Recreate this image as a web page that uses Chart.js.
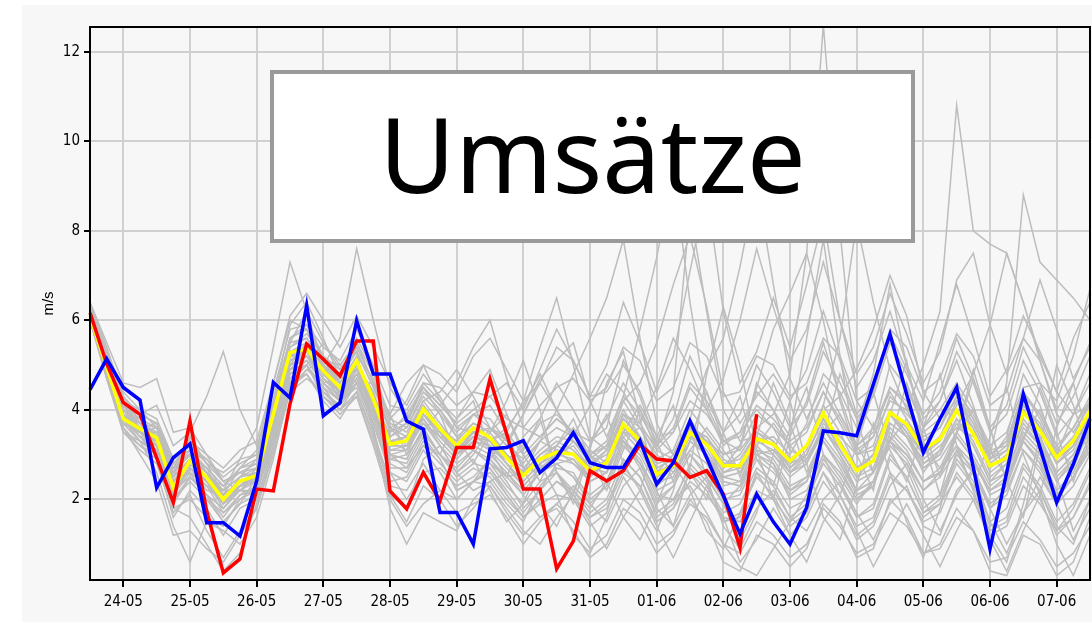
<!DOCTYPE html>
<html>
<head>
<meta charset="utf-8">
<script src="https://cdn.jsdelivr.net/npm/chart.js@4/dist/chart.umd.min.js"></script>
<style>
  html, body { margin: 0; padding: 0; background: #ffffff; }
  #bg { position: absolute; left: 22px; top: 5px; width: 1070px; height: 617px; background: #f7f7f7; }
  #wrap { position: absolute; left: 0; top: 0; width: 1092px; height: 626px; }
  #titlebox {
    position: absolute; left: 270px; top: 70px; width: 637px; height: 165px;
    border: 4px solid #9a9a9a; background: #ffffff;
    display: flex; align-items: center; justify-content: center;
    font-family: 'Noto Sans', 'Open Sans', sans-serif; font-size: 104px; color: #000;
    line-height: 1;
  }
  #titlebox span { position: relative; top: -4px; }
</style>
</head>
<body>
<div id="bg"></div>
<div id="wrap"><canvas id="c"></canvas></div>
<div id="titlebox"><span>Umsätze</span></div>
<script>
// ---- tick labels ----
const dayLabels = ['24-05','25-05','26-05','27-05','28-05','29-05','30-05','31-05','01-06','02-06','03-06','04-06','05-06','06-06','07-06'];
const yTickValues = [2, 4, 6, 8, 10, 12];
const yAxisTitle = 'm/s';
const chartTitle = 'Umsätze';

// 6-hourly time steps from 23-05 12h to 07-06 12h (61 steps)
const timeLabels = ['23-05 12h', '23-05 18h'];
for (const d of dayLabels) {
  timeLabels.push(d + ' 00h', d + ' 06h', d + ' 12h', d + ' 18h');
}
timeLabels.length = 61;

// ---- highlighted series ----
const blueVals = [4.45,5.14,4.5,4.22,2.26,2.93,3.24,1.48,1.48,1.18,2.41,4.61,4.27,6.33,3.87,4.16,5.99,4.8,4.8,3.75,3.57,1.71,1.71,1.0,3.13,3.16,3.31,2.6,2.93,3.49,2.82,2.71,2.71,3.31,2.34,2.82,3.75,2.93,2.08,1.23,2.12,1.5,1.0,1.82,3.53,3.49,3.42,4.57,5.69,4.35,3.05,3.8,4.5,2.71,0.89,2.6,4.35,3.16,1.93,2.79,3.8];
const redVals = [6.17,5.03,4.16,3.9,2.93,1.93,3.75,1.74,0.36,0.67,2.23,2.19,4.13,5.47,5.13,4.76,5.54,5.54,2.19,1.79,2.6,1.97,3.16,3.16,4.69,3.46,2.23,2.23,0.45,1.07,2.64,2.41,2.64,3.23,2.9,2.86,2.49,2.64,2.12,0.92,3.9];
const meanVals = [6.1,4.95,3.8,3.58,3.38,2.26,2.86,2.49,2.0,2.41,2.53,3.9,5.28,5.36,4.87,4.5,5.09,4.24,3.23,3.31,4.02,3.58,3.2,3.6,3.38,2.93,2.53,2.9,3.05,3.01,2.64,2.82,3.68,3.31,2.56,2.75,3.49,3.23,2.75,2.75,3.35,3.23,2.86,3.2,3.94,3.23,2.64,2.86,3.94,3.68,3.12,3.35,3.98,3.46,2.75,2.93,3.94,3.53,2.93,3.31,3.98];

// ---- ensemble members (grey) ----
const ens01 = [6.3,5.3,4.4,4.0,3.6,2.8,3.0,2.9,2.5,2.8,3.0,4.4,5.8,5.9,5.2,4.8,5.6,4.9,3.8,3.6,4.4,4.0,3.5,3.9,3.8,3.3,2.8,3.3,3.6,3.4,3.0,3.2,4.2,3.6,2.9,3.1,4.0,3.5,3.0,3.2,3.9,3.6,3.2,3.5,4.4,3.7,3.0,3.2,4.3,3.9,3.5,3.8,4.4,3.9,3.1,3.2,4.3,3.9,3.2,3.6,4.3];
const ens02 = [6.0,4.8,3.6,3.2,2.9,1.6,2.2,1.8,1.2,1.8,2.0,3.2,4.6,4.8,4.2,3.8,4.4,3.5,2.4,2.5,3.2,2.8,2.4,2.7,2.5,2.0,1.6,1.9,2.1,2.0,1.6,1.8,2.6,2.3,1.5,1.8,2.4,2.1,1.6,1.5,2.2,2.0,1.5,1.8,2.6,1.9,1.2,1.5,2.5,2.2,1.6,1.9,2.5,2.0,1.2,1.4,2.3,1.9,1.3,1.6,2.3];
const ens03 = [6.2,5.1,4.0,3.9,4.1,3.2,3.5,4.3,5.3,4.0,3.2,4.2,5.5,6.2,5.5,4.9,5.3,4.5,3.9,4.6,5.0,4.2,3.8,4.4,4.9,3.9,3.1,3.8,4.6,4.0,3.3,3.6,5.1,4.3,3.2,3.8,5.2,4.4,3.3,3.1,4.6,4.0,3.4,4.2,5.5,4.3,3.2,3.5,5.0,4.5,3.6,4.2,5.1,4.1,2.9,3.4,4.8,4.1,3.0,3.9,4.6];
const ens04 = [6.4,5.4,4.3,3.7,3.3,2.4,2.6,2.3,2.2,2.9,3.6,5.4,7.3,6.2,5.0,4.3,4.8,3.9,2.8,2.6,3.3,2.9,2.2,2.4,2.7,2.2,1.7,2.2,2.8,2.5,1.9,2.3,3.4,2.8,2.0,2.3,3.0,2.6,2.0,2.1,2.9,2.6,2.2,2.4,3.3,2.8,2.1,2.3,3.4,3.0,2.4,2.7,3.2,2.6,1.8,2.1,3.1,2.7,2.0,2.5,3.1];
const ens05 = [6.1,5.0,3.9,3.4,3.5,2.5,2.9,2.6,2.2,2.2,2.1,3.4,4.9,5.2,5.0,5.6,7.6,6.0,4.5,3.9,4.5,3.9,3.0,3.2,3.0,2.6,2.2,2.6,2.8,2.9,2.4,2.6,3.5,3.4,2.8,2.9,3.6,3.3,2.4,2.3,3.0,3.1,2.8,3.0,3.8,3.1,2.5,2.9,4.0,3.5,2.8,3.0,3.7,3.2,2.4,2.6,3.6,3.2,2.6,3.0,3.6];
const ens06 = [6.2,4.9,3.7,3.3,2.6,1.4,0.6,1.5,1.3,1.0,1.6,2.9,4.5,4.9,4.6,4.2,4.5,3.6,2.1,1.8,2.9,3.2,2.6,2.2,2.4,2.6,2.1,1.6,1.9,2.3,1.9,1.5,2.3,2.7,1.8,1.4,2.1,2.5,1.9,1.1,1.8,2.2,1.6,1.3,2.0,2.4,1.7,1.1,1.9,2.3,1.4,1.2,2.2,2.6,1.5,0.8,1.7,2.2,1.4,1.0,2.0];
const ens07 = [6.3,5.2,4.1,3.8,3.4,2.7,3.3,2.8,2.4,2.6,2.7,4.1,5.4,5.6,5.1,4.6,5.0,4.3,3.4,3.6,4.3,3.9,3.4,3.7,3.5,3.0,2.7,3.1,3.4,3.3,2.8,3.1,3.9,3.3,2.6,3.0,3.8,3.2,2.7,3.0,3.6,3.9,4.8,7.5,12.6,8.0,4.2,3.6,4.5,4.2,3.4,3.6,4.5,3.8,3.0,3.3,4.4,3.8,3.0,3.4,4.2];
const ens08 = [6.1,5.0,3.8,3.6,3.7,2.9,3.1,2.6,1.9,2.2,2.4,3.6,5.0,5.1,4.6,4.7,5.4,4.6,3.6,3.2,3.7,3.4,3.3,3.9,3.6,3.2,2.9,3.3,3.1,2.8,2.5,2.9,3.9,3.7,3.1,2.9,3.4,3.3,3.0,3.1,3.6,3.3,2.7,3.0,3.8,3.4,3.0,3.4,4.2,4.0,5.0,6.2,10.8,8.0,7.7,7.5,6.4,5.2,4.4,3.9,4.1];
const ens09 = [6.2,5.1,4.0,3.7,3.2,2.1,2.7,2.5,2.3,2.6,2.5,3.8,5.1,5.4,5.0,4.4,4.8,4.0,2.9,3.0,3.8,3.3,2.9,3.3,3.1,2.7,2.3,2.7,3.0,3.2,2.7,2.6,3.3,3.0,2.3,2.6,3.3,3.0,2.5,2.4,3.1,3.0,2.6,2.9,3.6,3.1,2.5,2.7,3.7,3.4,2.9,3.2,3.6,3.4,3.0,4.6,8.8,7.3,6.9,6.5,6.0];
const ens10 = [6.0,4.9,3.7,3.5,3.3,2.2,2.7,2.3,1.7,2.0,2.3,3.7,5.2,5.2,4.7,4.3,4.9,4.1,3.1,3.1,3.9,3.4,3.0,3.4,3.2,2.8,2.4,2.8,3.1,3.0,2.5,2.9,3.9,3.6,3.2,4.4,8.5,6.2,4.0,3.3,3.4,3.0,2.5,2.8,3.6,3.0,2.4,2.6,3.6,3.2,2.7,2.9,3.5,3.0,2.3,2.6,3.5,3.1,2.4,2.9,3.5];
const ens11 = [6.3,5.2,4.1,3.6,3.0,1.9,2.5,2.1,1.6,2.1,2.3,3.5,4.9,5.3,5.0,4.6,5.0,4.1,3.0,2.9,3.6,3.5,3.2,3.1,2.8,2.5,2.6,3.3,4.0,4.8,5.6,6.5,7.8,5.6,3.7,3.0,3.5,3.4,2.9,2.7,3.1,2.9,2.3,2.5,3.3,2.8,2.2,2.4,3.3,3.0,2.4,2.6,3.2,2.8,2.2,2.5,3.3,2.9,2.1,2.5,3.2];
const ens12 = [6.2,4.8,3.5,3.3,3.0,1.8,2.0,1.6,1.4,2.0,2.2,3.3,4.7,5.0,4.5,4.0,4.4,3.4,2.3,2.2,2.8,2.2,1.7,1.9,2.1,1.6,1.0,1.5,1.9,1.5,0.9,1.2,2.0,1.7,1.0,1.3,1.9,1.6,1.0,0.8,1.5,1.2,0.7,1.0,1.8,1.4,0.8,1.0,1.7,1.4,0.8,0.9,1.6,1.3,0.6,0.7,1.5,1.1,0.5,0.8,1.4];
const ens13 = [6.1,5.1,4.2,4.0,3.8,2.9,3.2,2.8,2.6,2.9,3.0,4.2,5.6,5.9,5.4,5.1,5.8,5.0,4.1,4.0,4.6,4.5,4.1,4.4,4.3,3.8,3.6,4.1,4.5,4.7,4.2,4.5,5.4,5.1,4.2,4.5,5.5,5.2,4.3,4.4,5.2,5.0,4.3,4.6,5.6,5.2,4.2,4.5,5.8,5.4,4.4,4.7,5.7,5.2,4.1,4.4,5.6,5.1,4.0,4.6,5.5];
const ens14 = [6.2,5.0,3.9,3.4,3.1,2.6,3.4,2.8,2.1,2.3,2.6,3.6,4.6,5.0,5.5,5.0,4.6,3.8,3.5,3.9,3.5,3.0,3.8,4.2,3.1,2.5,3.4,3.8,2.6,2.1,3.2,3.9,2.8,2.2,3.4,4.1,2.6,2.0,3.5,4.3,2.9,2.3,3.6,4.5,3.0,2.1,3.2,4.4,3.1,2.4,3.6,4.8,3.2,2.2,3.4,4.5,3.0,2.1,3.6,4.6,3.2];
const ens15 = [6.0,4.9,3.9,3.6,3.0,1.8,1.6,1.0,0.4,0.8,1.9,3.2,4.6,5.0,4.3,4.0,4.6,3.7,2.6,2.0,2.6,2.7,2.3,2.5,2.9,2.4,1.8,2.2,2.6,2.0,1.4,1.7,2.9,2.5,1.6,1.9,2.8,2.4,1.5,1.6,2.6,2.3,1.6,1.9,2.9,2.4,1.6,1.8,2.9,2.5,1.7,1.9,2.8,2.3,1.4,1.6,2.7,2.2,1.3,1.8,2.6];
const ens16 = [6.3,5.1,3.9,3.5,3.4,2.3,2.8,2.4,1.8,2.3,2.7,4.0,5.3,5.4,4.9,4.8,5.3,3.5,1.8,1.0,1.7,1.5,1.3,2.0,2.4,1.9,1.5,2.3,2.7,2.6,2.0,2.3,3.2,2.8,2.2,2.4,3.1,2.8,2.1,2.2,3.0,2.7,2.1,2.4,3.3,2.7,2.0,2.3,3.3,2.9,2.2,2.5,3.1,2.7,1.9,2.2,3.1,2.6,1.9,2.3,3.0];
const ens17 = [6.2,5.2,4.1,3.7,3.5,2.6,3.1,2.7,2.3,2.7,2.8,4.1,5.6,5.8,5.2,4.9,5.5,4.8,3.8,4.2,5.0,4.8,4.4,5.2,5.6,4.9,4.2,4.6,5.4,5.1,4.3,4.4,5.0,4.4,3.4,3.5,4.2,3.9,3.3,3.4,4.1,3.8,3.3,3.6,4.4,3.8,3.1,3.4,4.5,4.1,3.3,3.6,4.3,3.8,3.0,3.3,4.4,3.9,3.1,3.6,4.2];
const ens18 = [6.1,5.0,3.9,3.5,3.3,2.4,2.9,2.5,2.1,2.4,2.4,3.8,5.2,5.3,4.8,4.4,5.0,4.2,3.2,3.3,4.0,3.5,3.0,3.3,3.2,2.8,2.3,2.7,2.9,2.8,2.4,2.6,3.5,3.1,2.4,2.5,3.3,3.0,2.3,2.4,3.3,3.4,3.0,3.7,4.8,4.4,3.6,4.8,6.8,5.0,3.6,4.0,4.6,4.0,3.2,3.5,4.5,4.6,4.2,5.2,6.7];
const ens19 = [6.4,5.5,4.6,4.5,4.7,3.5,3.6,3.0,2.7,3.1,3.3,4.6,6.1,6.6,6.0,5.4,6.1,5.4,4.6,4.1,4.8,4.3,3.6,3.9,4.1,3.5,3.0,3.4,3.8,3.5,2.8,3.0,3.8,3.4,2.6,2.7,3.4,3.0,2.4,2.3,3.0,2.8,2.2,2.5,3.4,2.9,2.2,2.4,3.5,3.1,2.4,2.6,3.4,2.9,2.1,2.3,3.3,2.8,2.0,2.5,3.3];
const ens20 = [6.1,4.9,3.8,3.4,3.0,2.0,2.4,2.0,1.7,2.1,2.2,3.4,4.8,5.1,4.6,4.2,4.7,3.8,2.7,2.7,3.4,2.9,2.2,2.4,2.3,1.7,1.2,1.6,1.8,1.3,0.7,1.0,1.8,1.5,0.8,1.2,2.0,1.5,0.6,0.4,1.2,1.0,0.5,0.9,1.9,1.5,0.7,0.9,2.0,1.6,0.8,1.0,1.8,1.3,0.4,0.3,1.2,1.0,0.3,0.6,1.6];
const ens21 = [6.2,5.0,3.8,3.3,3.2,2.5,3.3,3.0,2.4,2.2,2.2,3.2,4.4,4.9,5.1,5.0,5.5,4.6,3.5,3.7,4.6,4.2,3.6,3.5,3.1,2.9,3.1,3.7,3.9,3.5,3.3,3.8,4.6,4.0,3.1,3.5,4.5,4.0,3.2,3.5,4.4,4.0,3.1,2.9,3.6,3.0,2.2,2.6,3.7,3.4,2.6,3.1,4.0,3.6,2.6,2.9,4.1,3.7,2.9,3.2,3.9];
const ens22 = [6.0,4.8,3.7,3.5,3.6,2.8,2.6,2.0,1.5,1.9,2.5,4.2,5.9,6.4,5.6,4.7,4.9,4.0,3.0,2.7,3.2,3.0,2.7,3.1,2.8,2.3,1.9,2.4,2.6,2.2,1.8,2.4,3.3,2.7,1.9,2.3,3.0,2.5,1.9,2.3,3.2,2.8,2.0,2.2,3.0,2.5,1.9,2.4,3.3,2.7,1.8,2.1,3.0,2.6,1.8,2.3,3.4,3.0,2.2,2.6,3.4];
const ens23 = [6.3,5.2,4.0,3.5,3.1,2.2,2.9,2.7,2.0,2.2,2.6,3.8,5.0,5.2,4.8,4.5,5.0,4.4,3.3,3.1,3.9,3.6,3.1,3.4,3.3,3.5,4.2,5.4,6.5,5.0,3.4,3.1,3.7,3.2,2.6,2.8,3.6,3.4,2.8,2.9,3.5,3.2,2.6,2.8,3.7,3.3,2.7,3.0,3.9,3.4,2.7,3.0,3.8,3.3,2.5,2.8,3.8,3.3,2.5,2.9,3.7];
const ens24 = [6.1,5.0,3.9,3.6,3.4,2.4,2.8,2.5,2.0,2.4,2.6,3.9,5.2,5.3,4.7,4.4,4.9,4.1,3.0,3.1,3.7,3.2,2.8,3.1,2.9,2.5,2.1,2.6,2.8,2.5,2.1,2.4,3.3,2.9,2.1,2.0,2.3,1.7,1.0,0.5,0.3,0.9,1.5,2.1,3.0,2.6,2.0,2.4,3.2,2.8,2.2,2.6,3.4,2.9,2.2,2.4,3.3,2.8,2.1,2.5,3.1];
const ens25 = [6.2,5.1,4.0,3.7,3.4,2.5,2.9,2.5,2.2,2.5,2.7,3.9,5.3,5.5,4.9,4.6,5.1,4.3,3.3,3.4,4.1,3.6,3.1,3.5,3.3,2.9,2.5,2.9,3.1,3.0,2.6,2.8,3.7,3.3,2.6,2.8,3.6,3.2,2.6,2.7,3.4,3.2,2.7,3.1,4.0,4.3,4.9,5.8,7.0,6.1,4.4,3.8,4.2,3.6,2.8,3.1,4.1,3.6,2.8,3.2,3.9];
const ens26 = [6.3,5.3,4.3,3.9,3.7,2.7,2.7,2.2,2.1,2.7,3.1,4.6,6.0,5.8,4.9,4.2,4.8,4.3,3.6,3.4,3.8,3.2,2.6,3.0,3.6,3.4,2.7,2.6,2.9,3.3,3.0,2.7,3.4,3.6,3.0,2.6,3.1,3.6,3.1,2.6,3.2,3.7,3.2,2.8,3.5,3.9,3.2,2.6,3.3,3.8,3.2,2.7,3.5,4.0,3.1,2.5,3.4,4.0,3.2,2.7,3.6];
const ens27 = [6.0,4.7,3.5,3.2,3.0,2.0,2.5,2.1,1.8,2.2,2.5,3.6,4.9,5.0,4.4,4.1,4.6,3.9,2.9,2.8,3.5,3.0,2.5,2.8,2.7,2.1,1.6,2.0,2.4,2.2,1.7,2.0,2.9,2.5,1.7,2.0,2.7,2.3,1.7,1.9,2.7,2.4,1.8,2.0,2.8,2.3,1.6,1.9,3.0,2.5,1.7,2.0,2.9,2.4,1.5,1.8,2.8,2.3,1.5,1.9,2.7];
const ens28 = [6.2,5.0,3.9,3.7,3.6,2.7,3.0,2.6,2.1,2.3,2.4,3.7,5.2,5.4,4.9,4.5,5.0,4.2,3.2,3.4,4.2,3.7,3.2,3.6,3.4,3.0,2.6,3.0,3.2,3.0,2.6,2.9,3.8,3.4,2.7,2.9,3.7,3.3,2.7,3.2,4.5,5.8,6.6,7.5,6.0,4.2,3.0,3.1,4.0,3.6,3.0,3.3,4.0,3.5,2.7,3.0,4.0,3.5,2.8,3.2,3.9];
const ens29 = [6.2,5.0,3.9,3.6,3.3,2.3,2.7,2.4,2.0,2.5,2.6,3.9,5.2,5.4,4.9,4.5,5.1,4.3,3.3,3.4,4.1,3.6,3.3,3.7,3.5,4.2,5.1,4.0,2.6,1.9,3.1,4.6,5.3,3.8,2.2,1.4,2.7,4.8,6.3,5.0,3.1,2.0,3.4,5.6,7.8,5.2,3.0,2.2,3.9,5.1,3.3,2.1,3.5,4.9,3.6,2.4,1.6,3.2,5.0,4.1,2.9];
const ens30 = [6.1,4.9,3.7,3.3,3.1,2.1,2.6,2.3,1.9,2.3,2.4,3.7,5.0,5.2,4.6,4.3,4.7,4.0,3.0,2.9,3.6,3.0,2.6,2.9,2.2,1.5,1.9,2.8,2.1,1.2,0.8,1.6,2.5,1.9,1.3,2.2,3.6,2.5,1.4,0.9,1.7,3.0,4.2,2.8,1.6,1.1,2.3,3.7,2.6,1.5,0.7,1.8,3.1,2.2,1.2,0.6,1.9,3.4,2.5,1.3,2.0];
const ens31 = [6.3,5.2,4.1,3.8,3.6,2.6,3.0,2.7,2.3,2.7,2.9,4.2,5.5,5.6,5.0,4.7,5.3,4.5,3.6,3.8,4.5,4.1,3.7,4.0,4.3,4.6,4.0,4.9,5.8,5.1,4.3,5.0,6.4,5.5,4.4,5.2,7.1,8.9,6.2,4.6,5.3,6.5,5.4,6.8,8.3,6.0,4.5,5.1,6.2,5.0,4.2,5.5,6.8,5.6,4.3,4.9,6.1,5.3,4.4,5.6,6.4];
const ens32 = [6.0,4.8,3.8,3.4,3.2,2.2,2.5,2.1,1.5,1.9,2.1,3.5,4.8,5.0,4.5,4.2,4.6,3.7,2.6,2.4,3.1,2.6,2.0,2.4,2.9,3.4,2.7,1.9,1.4,2.2,3.0,2.4,1.6,1.1,1.9,2.8,2.2,1.3,0.9,1.7,2.6,2.0,1.2,1.6,2.4,1.9,1.1,1.4,2.3,2.8,2.0,1.3,2.1,2.7,1.8,1.0,1.7,2.5,1.9,1.1,1.8];
const ens33 = [6.2,5.1,4.0,3.6,3.4,2.5,2.9,2.5,2.1,2.4,2.5,3.8,5.1,5.3,4.8,4.5,5.0,4.2,3.2,3.2,3.9,3.5,3.1,3.5,3.3,2.9,2.5,2.9,3.2,3.6,3.1,2.8,3.5,4.1,3.4,3.0,3.8,4.9,5.6,7.2,9.1,6.8,4.7,3.8,4.6,3.9,3.2,3.6,4.4,3.8,3.1,3.4,4.2,3.7,2.9,3.1,4.0,3.4,2.6,3.0,3.8];
const ens34 = [6.1,5.0,3.8,3.5,3.2,2.3,2.8,2.4,1.9,2.3,2.4,3.7,5.1,5.2,4.7,4.4,4.9,4.1,3.1,3.2,3.9,3.4,3.0,3.5,3.6,3.3,3.9,4.7,5.1,5.5,4.2,3.4,4.3,5.8,7.4,9.3,6.4,4.1,3.3,3.5,4.0,3.6,2.9,3.2,4.1,3.5,2.7,3.0,3.9,3.4,2.8,3.1,3.8,3.2,2.4,2.8,3.7,3.2,2.4,2.8,3.6];
const ens35 = [6.3,5.2,4.2,3.9,3.7,2.8,3.2,2.9,2.4,2.6,2.8,4.0,5.4,5.7,5.2,4.6,5.2,4.7,3.7,3.5,4.2,4.4,4.9,4.3,3.6,3.2,3.9,4.6,4.0,3.4,4.1,4.8,4.4,3.7,4.5,5.6,4.9,4.0,4.7,6.0,7.6,6.3,5.1,5.8,7.3,6.0,4.8,5.4,6.6,5.7,4.6,5.3,6.9,7.5,5.9,4.8,5.6,6.9,5.8,4.7,5.4];
const ens36 = [6.0,4.7,3.5,3.1,2.8,1.7,2.1,1.3,0.7,1.3,1.8,3.1,4.5,4.8,4.3,3.9,4.3,3.3,2.1,1.5,2.3,2.0,1.4,1.8,2.3,1.8,1.3,1.0,1.6,2.1,1.5,0.9,1.6,2.2,1.4,0.7,1.5,2.3,1.6,0.6,1.1,1.8,1.2,0.6,1.5,2.1,1.3,0.5,1.2,1.9,1.2,0.5,1.3,2.0,1.1,0.4,1.3,2.1,1.0,0.3,1.2];
const ens37 = [6.2,5.1,3.9,3.6,3.3,2.4,2.8,2.5,2.0,2.4,2.6,3.9,5.3,5.4,4.9,4.5,5.0,4.3,3.3,3.3,4.0,3.6,3.2,3.5,3.3,2.8,2.4,2.8,3.0,2.9,2.5,2.8,3.6,3.2,2.5,2.7,3.5,3.1,2.5,2.6,3.3,3.1,2.6,3.0,3.8,3.2,2.6,3.0,3.9,3.5,3.0,3.4,4.1,4.8,5.9,7.5,6.4,5.1,3.9,3.5,4.1];
const ens38 = [6.1,5.0,3.9,3.5,3.3,2.3,2.8,2.4,2.0,2.3,2.5,3.8,5.1,5.3,4.8,4.4,4.9,4.2,3.2,3.2,3.9,3.5,3.0,3.4,3.3,3.6,4.1,4.8,4.0,3.3,2.9,3.2,4.0,3.4,2.7,2.9,3.6,3.2,2.6,2.8,3.5,3.3,2.8,3.2,4.1,5.6,8.2,6.4,4.9,4.0,3.3,3.6,4.3,3.7,2.9,3.2,4.2,3.6,2.8,3.1,3.9];
const ens39 = [6.2,5.0,3.9,3.5,3.4,2.7,3.0,2.4,1.9,2.5,2.9,4.1,5.0,5.5,5.2,4.3,4.6,4.6,3.9,3.0,3.5,4.0,3.4,2.8,3.5,3.9,3.0,2.4,3.2,3.8,2.9,2.2,3.1,4.0,3.3,2.4,3.3,4.4,3.5,2.5,3.4,4.6,3.7,2.6,3.4,4.8,3.8,2.6,3.3,4.6,3.6,2.5,3.5,4.7,3.6,2.4,3.3,4.5,3.5,2.4,3.5];
const ens40 = [6.1,5.0,3.9,3.5,3.3,2.4,2.9,2.6,2.2,2.5,2.6,3.9,5.2,5.3,4.9,4.5,5.0,4.3,3.4,3.7,4.5,4.1,4.6,5.4,6.0,4.7,3.6,3.4,3.8,3.5,3.0,3.3,4.3,3.9,3.2,3.6,4.6,4.2,3.5,3.9,5.0,4.4,3.6,4.1,5.3,4.6,3.8,4.3,5.5,4.8,3.9,4.4,5.6,4.7,3.6,4.1,5.4,4.6,3.7,4.3,5.2];
const ens41 = [6.0,4.8,3.6,3.0,2.4,1.2,1.3,0.9,0.6,1.2,1.8,3.0,4.4,4.7,4.4,4.0,4.3,3.2,2.0,1.4,1.9,2.2,2.0,2.4,2.6,2.1,1.6,2.0,2.4,2.1,1.6,1.9,2.7,2.3,1.5,1.8,2.6,2.2,1.5,1.7,2.5,2.1,1.4,1.7,2.6,2.1,1.4,1.6,2.6,2.2,1.5,1.7,2.6,2.1,1.3,1.5,2.5,2.0,1.2,1.6,2.4];
const ens42 = [6.2,5.1,4.0,3.7,3.5,2.6,3.0,2.6,2.1,2.4,2.6,3.9,5.2,5.4,4.9,4.6,5.1,4.3,3.3,3.4,4.0,3.6,3.2,3.6,3.4,3.0,2.6,3.0,3.3,3.1,2.7,3.1,4.2,4.6,5.5,6.8,7.9,6.3,4.4,3.7,4.3,4.8,4.2,4.9,6.2,5.1,3.9,4.4,5.7,4.9,3.8,4.2,5.3,4.6,3.5,3.9,5.1,4.4,3.4,3.9,4.8];
const members = [ens01,ens02,ens03,ens04,ens05,ens06,ens07,ens08,ens09,ens10,ens11,ens12,ens13,ens14,ens15,ens16,ens17,ens18,ens19,ens20,ens21,ens22,ens23,ens24,ens25,ens26,ens27,ens28,ens29,ens30,ens31,ens32,ens33,ens34,ens35,ens36,ens37,ens38,ens39,ens40,ens41,ens42];

// ---- datasets (index 0 is drawn on top) ----
const datasets = [
  { label: 'blue', data: blueVals, borderColor: '#0000ff', borderWidth: 3.5 },
  { label: 'red', data: redVals, borderColor: '#ff0000', borderWidth: 3.5 },
  { label: 'mean', data: meanVals, borderColor: '#ffff00', borderWidth: 3.5 }
];
members.forEach((m, i) => datasets.push({ label: 'm' + (i + 1), data: m, borderColor: '#bdbdbd', borderWidth: 1.5 }));
datasets.forEach(d => { d.pointRadius = 0; d.tension = 0; d.fill = false; d.spanGaps = false; });

const tickFont = { family: "'Liberation Sans Narrow', 'DejaVu Sans Condensed', 'Arial Narrow', sans-serif", size: 15 };

const frame = {
  id: 'frame',
  afterDatasetsDraw(chart) {
    const { ctx, chartArea: a } = chart;
    ctx.save();
    ctx.strokeStyle = '#000';
    ctx.lineWidth = 2;
    ctx.strokeRect(a.left, a.top, a.right - a.left, a.bottom - a.top);
    ctx.restore();
  }
};

new Chart(document.getElementById('c'), {
  type: 'line',
  data: { labels: timeLabels, datasets },
  options: {
    responsive: true,
    maintainAspectRatio: false,
    devicePixelRatio: 1,
    animation: false,
    events: [],
    layout: { padding: { top: 27, right: 2, left: 0, bottom: 0 } },
    plugins: { legend: { display: false }, tooltip: { enabled: false }, title: { display: false, text: chartTitle } },
    scales: {
      x: {
        type: 'category',
        offset: false,
        afterBuildTicks: s => { s.ticks = dayLabels.map((_, i) => ({ value: 2 + 4 * i })); },
        afterFit: s => { s.height = 46; },
        ticks: {
          autoSkip: false, maxRotation: 0, minRotation: 0, padding: 6,
          color: '#000', font: tickFont,
          callback: v => dayLabels[(v - 2) / 4]
        },
        grid: { color: '#d0d0d0', lineWidth: 2, tickLength: 7, tickColor: '#000', tickWidth: 2, drawTicks: true },
        border: { display: true, color: '#000', width: 2 }
      },
      y: {
        type: 'linear',
        min: 0.2, max: 12.55,
        afterBuildTicks: s => { s.ticks = yTickValues.map(v => ({ value: v })); },
        afterFit: s => { s.width = 90; },
        ticks: { padding: 4, color: '#000', font: tickFont, callback: v => String(v) },
        grid: { color: '#d0d0d0', lineWidth: 2, tickLength: 6, tickColor: '#000', tickWidth: 2 },
        border: { display: true, color: '#000', width: 2 },
        title: { display: true, text: yAxisTitle, color: '#000', font: { family: "'Liberation Sans', Arial, sans-serif", size: 15 }, padding: { top: 40, bottom: 0 } }
      }
    }
  },
  plugins: [frame]
});
</script>
</body>
</html>
